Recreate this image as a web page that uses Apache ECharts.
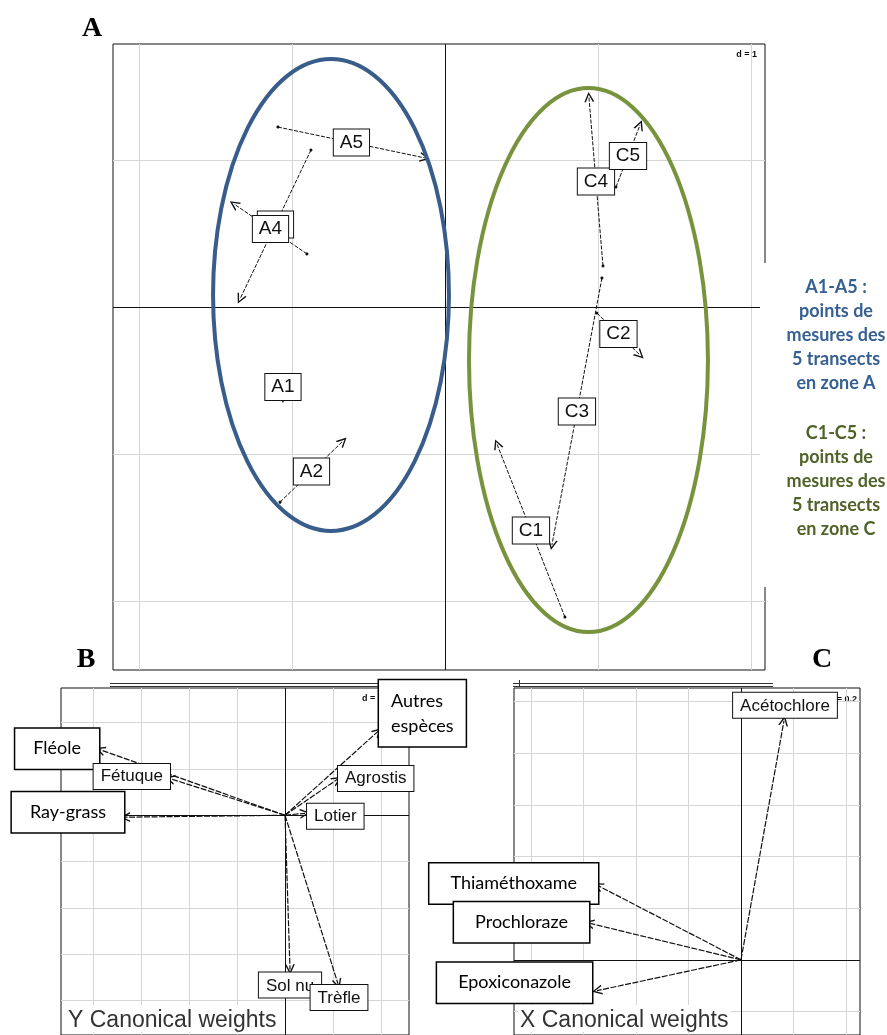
<!DOCTYPE html>
<html lang="fr">
<head>
<meta charset="UTF-8">
<title>Analyse de co-inertie</title>
<style>
  html, body { margin: 0; padding: 0; background: #fff; }
  #main { width: 887px; height: 1035px; }
</style>
</head>
<body>
<div id="main"></div>
<script src="https://cdn.jsdelivr.net/npm/echarts@6/dist/echarts.min.js"></script>
<script>
// ===== A : points de mesure, debut (x0,y0) -> fin de fleche (x1,y1), d = 1
const ptNames = ['A1', 'A2', 'A3', 'A4', 'A5', 'C1', 'C2', 'C3', 'C4', 'C5'];
const ptX0 = [-1.059, -1.078, -0.876, -0.902, -1.092, 0.784, 0.993, 1.026, 1.033, 1.118];
const ptY0 = [-0.469, -1.327, 1.068, 0.361, 1.224, -2.109, -0.041, 0.197, 0.279, 0.816];
const ptX1 = [-1.059, -0.667, -1.340, -1.379, -0.131, 0.340, 1.275, 0.699, 0.941, 1.275];
const ptY1 = [-0.619, -0.912, 0.054, 0.701, 1.014, -0.932, -0.327, -1.619, 1.429, 1.238];

// ellipses entourant les zones A et C
const ellCx = [-0.745, 0.938];
const ellCy = [0.082, -0.361];
const ellRx = [0.771, 0.781];
const ellRy = [1.605, 1.850];

// ===== B : especes (Y canonical weights)
const spNames = ['Fléole', 'Fétuque', 'Ray-grass', 'Autres\nespèces', 'Agrostis', 'Lotier', 'Sol nu', 'Trèfle'];
const spX = [-3.854, -2.396, -3.333, 1.938, 1.083, 0.417, 0.104, 1.104];
const spY = [1.417, 0.792, -0.042, 1.813, 0.771, 0.042, -3.333, -3.646];

// ===== C : pesticides (X canonical weights)
const peNames = ['Acétochlore', 'Thiaméthoxame', 'Prochloraze', 'Epoxiconazole'];
const peX = [0.819, -2.724, -2.895, -2.743];
const peY = [4.627, 1.437, 0.709, -0.597];

// lignes de grille
const gridAx = [-2, -1, 1, 2], gridAy = [-2, -1, 1];
const gridBx = [-4, -3, -2, -1, 1, 2], gridBy = [-4, -3, -2, -1, 1, 2];
const gridCx = [-4, -3, -2, -1, 1, 2], gridCy = [-1, 1, 2, 3, 4, 5];

// ---------- styles ----------
const ARROW = 'path://M5,0L10,11L8.4,11L5,3.2L1.6,11L0,11Z';
const ellColors = ['#385D8A', '#77933C'];
const ade4Font = '"Liberation Sans", Arial, sans-serif';
const bigFont = 'Lato, "Open Sans", sans-serif';

const smallLabel = {
  show: true, color: '#111', fontFamily: ade4Font, fontSize: 17, lineHeight: 19,
  textBorderWidth: 0, opacity: 1,
  backgroundColor: '#fff', borderColor: '#111', borderWidth: 1, padding: [4, 7, 2, 7]
};
const bigLabel = {
  show: true, color: '#000', fontFamily: bigFont, fontSize: 18, lineHeight: 20,
  textBorderWidth: 0, opacity: 1,
  backgroundColor: '#fff', borderColor: '#000', borderWidth: 1.5, padding: [10, 21]
};
// placement des etiquettes B et C
const labelPlace = {
  'Fléole': [Object.assign({}, bigLabel, { padding: [10, 18] }), 'left', 1, [0, -1]],
  'Fétuque': [smallLabel, 'left', 0, [0, -2]],
  'Ray-grass': [Object.assign({}, bigLabel, { padding: [10, 18] }), 'left', 1, [0, -5]],
  'Autres\nespèces': [Object.assign({}, bigLabel, { lineHeight: 25, padding: [8, 12] }), 'right', 1, [0, -18]],
  'Agrostis': [smallLabel, 'right', 1, [0, -1]],
  'Lotier': [smallLabel, 'right', 2, [0, 3]],
  'Sol nu': [smallLabel, 'bottom', 3, [0, 0]],
  'Trèfle': [smallLabel, 'bottom', 1, [1, 0]],
  'Acétochlore': [smallLabel, 'top', 3, [1, 0]],
  'Thiaméthoxame': [bigLabel, 'left', 0, [0, -2]],
  'Prochloraze': [bigLabel, 'left', 0, [0, -1]],
  'Epoxiconazole': [bigLabel, 'left', 5, [0, -8]]
};

function gridLines(xs, ys) {
  const gray = { color: '#d6d6d6', width: 1, type: 'solid' };
  const dark = { color: '#111', width: 1, type: 'solid' };
  return {
    silent: true, symbol: ['none', 'none'], label: { show: false }, z: 1,
    data: xs.map(v => ({ xAxis: v, lineStyle: gray }))
      .concat(ys.map(v => ({ yAxis: v, lineStyle: gray })))
      .concat([{ xAxis: 0, lineStyle: dark }, { yAxis: 0, lineStyle: dark }])
  };
}
function gridSeries(i, xs, ys) {
  return {
    type: 'scatter', xAxisIndex: i, yAxisIndex: i, z: 1, symbolSize: 0,
    data: [[0, 0]], silent: true, markLine: gridLines(xs, ys)
  };
}
function arrowsFromOrigin(i, names, xs, ys) {
  return {
    type: 'lines', coordinateSystem: 'cartesian2d', xAxisIndex: i, yAxisIndex: i, z: 3,
    symbol: ['none', ARROW], symbolSize: [0, 10], silent: true,
    lineStyle: { color: '#111', width: 1.2, opacity: 1, type: [6, 1.5] },
    data: names.map((n, k) => ({ name: n, coords: [[0, 0], [xs[k], ys[k]]] }))
  };
}
function endLabels(i, names, xs, ys) {
  return {
    type: 'scatter', xAxisIndex: i, yAxisIndex: i, z: 10, symbolSize: 0, silent: true,
    itemStyle: { opacity: 1 },
    data: names.map((n, k) => {
      const p = labelPlace[n];
      return {
        name: n, value: [xs[k], ys[k]],
        label: Object.assign({}, p[0], { position: p[1], distance: p[2], offset: p[3], formatter: n })
      };
    })
  };
}

const chart = echarts.init(document.getElementById('main'), null, { renderer: 'canvas' });

const titleStyle = { font: '23px "Liberation Sans", sans-serif', fill: '#333', backgroundColor: '#fff', padding: [4, 2, 0, 2], align: 'left', verticalAlign: 'top', textAlign: 'left', textVerticalAlign: 'top' };
const letterStyle = { font: 'bold 28px "Liberation Serif", serif', fill: '#000', align: 'center', verticalAlign: 'middle', textAlign: 'center', textVerticalAlign: 'middle' };
const scaleStyle = { font: 'bold 9px "Liberation Sans", sans-serif', fill: '#111', backgroundColor: '#fff', verticalAlign: 'middle', textVerticalAlign: 'middle' };
const legendStyle = { font: 'bold 18px Lato, sans-serif', lineHeight: 24, align: 'center', verticalAlign: 'top', textAlign: 'center', textVerticalAlign: 'top' };

const option = {
  animation: false,
  backgroundColor: '#fff',
  grid: [
    { left: 113, top: 44, width: 652, height: 626, show: true, borderColor: '#111', borderWidth: 1, backgroundColor: '#fff' },
    { left: 61, top: 688, width: 348, height: 360, show: true, borderColor: '#111', borderWidth: 1, backgroundColor: '#fff' },
    { left: 514, top: 688, width: 346, height: 360, show: true, borderColor: '#111', borderWidth: 1, backgroundColor: '#fff' }
  ],
  xAxis: [
    { gridIndex: 0, type: 'value', min: -2.170, max: 2.092, show: false },
    { gridIndex: 1, type: 'value', min: -4.667, max: 2.583, show: false },
    { gridIndex: 2, type: 'value', min: -4.324, max: 2.267, show: false }
  ],
  yAxis: [
    { gridIndex: 0, type: 'value', min: -2.469, max: 1.789, show: false },
    { gridIndex: 1, type: 'value', min: -4.750, max: 2.750, show: false },
    { gridIndex: 2, type: 'value', min: -1.455, max: 5.261, show: false }
  ],
  series: [
    gridSeries(0, gridAx, gridAy),
    gridSeries(1, gridBx, gridBy),
    gridSeries(2, gridCx, gridCy),
    // fleches du panneau A
    {
      type: 'lines', coordinateSystem: 'cartesian2d', xAxisIndex: 0, yAxisIndex: 0, z: 3,
      symbol: ['circle', ARROW], symbolSize: [3, 10], silent: true,
      lineStyle: { color: '#111', width: 1, opacity: 1, type: [4, 1.5] },
      data: ptNames.map((n, i) => ({ name: n, coords: [[ptX0[i], ptY0[i]], [ptX1[i], ptY1[i]]] }))
    },
    // ellipses
    {
      type: 'custom', xAxisIndex: 0, yAxisIndex: 0, z: 5, silent: true,
      data: ellCx.map((c, i) => [c, ellCy[i], ellRx[i], ellRy[i]]),
      renderItem: function (params, api) {
        const c = api.coord([api.value(0), api.value(1)]);
        const s = api.size([api.value(2), api.value(3)]);
        const rx = s[0], ry = s[1];
        const d = 'M' + (c[0] - rx) + ',' + c[1] +
          'A' + rx + ',' + ry + ',0,1,0,' + (c[0] + rx) + ',' + c[1] +
          'A' + rx + ',' + ry + ',0,1,0,' + (c[0] - rx) + ',' + c[1] + 'Z';
        return {
          type: 'path',
          shape: { pathData: d, x: c[0] - rx, y: c[1] - ry, width: 2 * rx, height: 2 * ry, layout: 'cover' },
          style: { fill: 'none', stroke: ellColors[params.dataIndex], lineWidth: 4 }
        };
      }
    },
    // etiquettes A1..C5 au milieu des fleches
    {
      type: 'scatter', xAxisIndex: 0, yAxisIndex: 0, z: 10, symbolSize: 0, silent: true,
      itemStyle: { opacity: 1 },
      data: ptNames.map((n, i) => ({ name: n, value: [(ptX0[i] + ptX1[i]) / 2, (ptY0[i] + ptY1[i]) / 2] })),
      label: {
        show: true, position: 'inside', formatter: '{b}', color: '#111', fontFamily: ade4Font,
        fontSize: 19, lineHeight: 20, textBorderWidth: 0, opacity: 1,
        backgroundColor: '#fff', borderColor: '#111', borderWidth: 1, padding: [4, 6, 2, 6]
      }
    },
    arrowsFromOrigin(1, spNames, spX, spY),
    endLabels(1, spNames, spX, spY),
    arrowsFromOrigin(2, peNames, peX, peY),
    endLabels(2, peNames, peX, peY)
  ],
  graphic: [
    // double trait au-dessus des panneaux B et C
    { type: 'line', z: 0, shape: { x1: 110, y1: 683.5, x2: 410, y2: 683.5 }, style: { stroke: '#333', lineWidth: 1 } },
    { type: 'line', z: 0, shape: { x1: 110, y1: 686.5, x2: 410, y2: 686.5 }, style: { stroke: '#333', lineWidth: 1 } },
    { type: 'line', z: 0, shape: { x1: 513, y1: 683.5, x2: 773, y2: 683.5 }, style: { stroke: '#333', lineWidth: 1 } },
    { type: 'line', z: 0, shape: { x1: 513, y1: 686.5, x2: 773, y2: 686.5 }, style: { stroke: '#333', lineWidth: 1 } },
    { type: 'line', z: 0, shape: { x1: 519.5, y1: 680, x2: 519.5, y2: 686 }, style: { stroke: '#333', lineWidth: 1 } },
    // cache du bord droit du panneau A
    { type: 'rect', z: 20, shape: { x: 760, y: 263, width: 10, height: 324 }, style: { fill: '#fff' } },
    // lettres des panneaux
    { type: 'text', z: 20, x: 92, y: 29, style: Object.assign({ text: 'A' }, letterStyle) },
    { type: 'text', z: 20, x: 86, y: 660, style: Object.assign({ text: 'B' }, letterStyle) },
    { type: 'text', z: 20, x: 822, y: 660, style: Object.assign({ text: 'C' }, letterStyle) },
    // echelles
    { type: 'text', z: 0, x: 757, y: 55, style: Object.assign({ text: 'd = 1', align: 'right', textAlign: 'right' }, scaleStyle) },
    { type: 'text', z: 0, x: 362, y: 699, style: Object.assign({ text: 'd = 0.5', align: 'left', textAlign: 'left' }, scaleStyle) },
    { type: 'text', z: 0, x: 857, y: 700, style: Object.assign({ text: 'd = 0.2', align: 'right', textAlign: 'right' }, scaleStyle) },
    // titres des tableaux
    { type: 'text', z: 50, x: 66, y: 1005, style: Object.assign({ text: 'Y Canonical weights' }, titleStyle) },
    { type: 'text', z: 50, x: 518, y: 1005, style: Object.assign({ text: 'X Canonical weights' }, titleStyle) },
    // legende
    { type: 'text', z: 20, x: 836, y: 275, style: Object.assign({ text: 'A1-A5 :\npoints de\nmesures des\n5 transects\nen zone A', fill: '#376092' }, legendStyle) },
    { type: 'text', z: 20, x: 836, y: 421, style: Object.assign({ text: 'C1-C5 :\npoints de\nmesures des\n5 transects\nen zone C', fill: '#4F6228' }, legendStyle) }
  ]
};

chart.setOption(option);
</script>
</body>
</html>
